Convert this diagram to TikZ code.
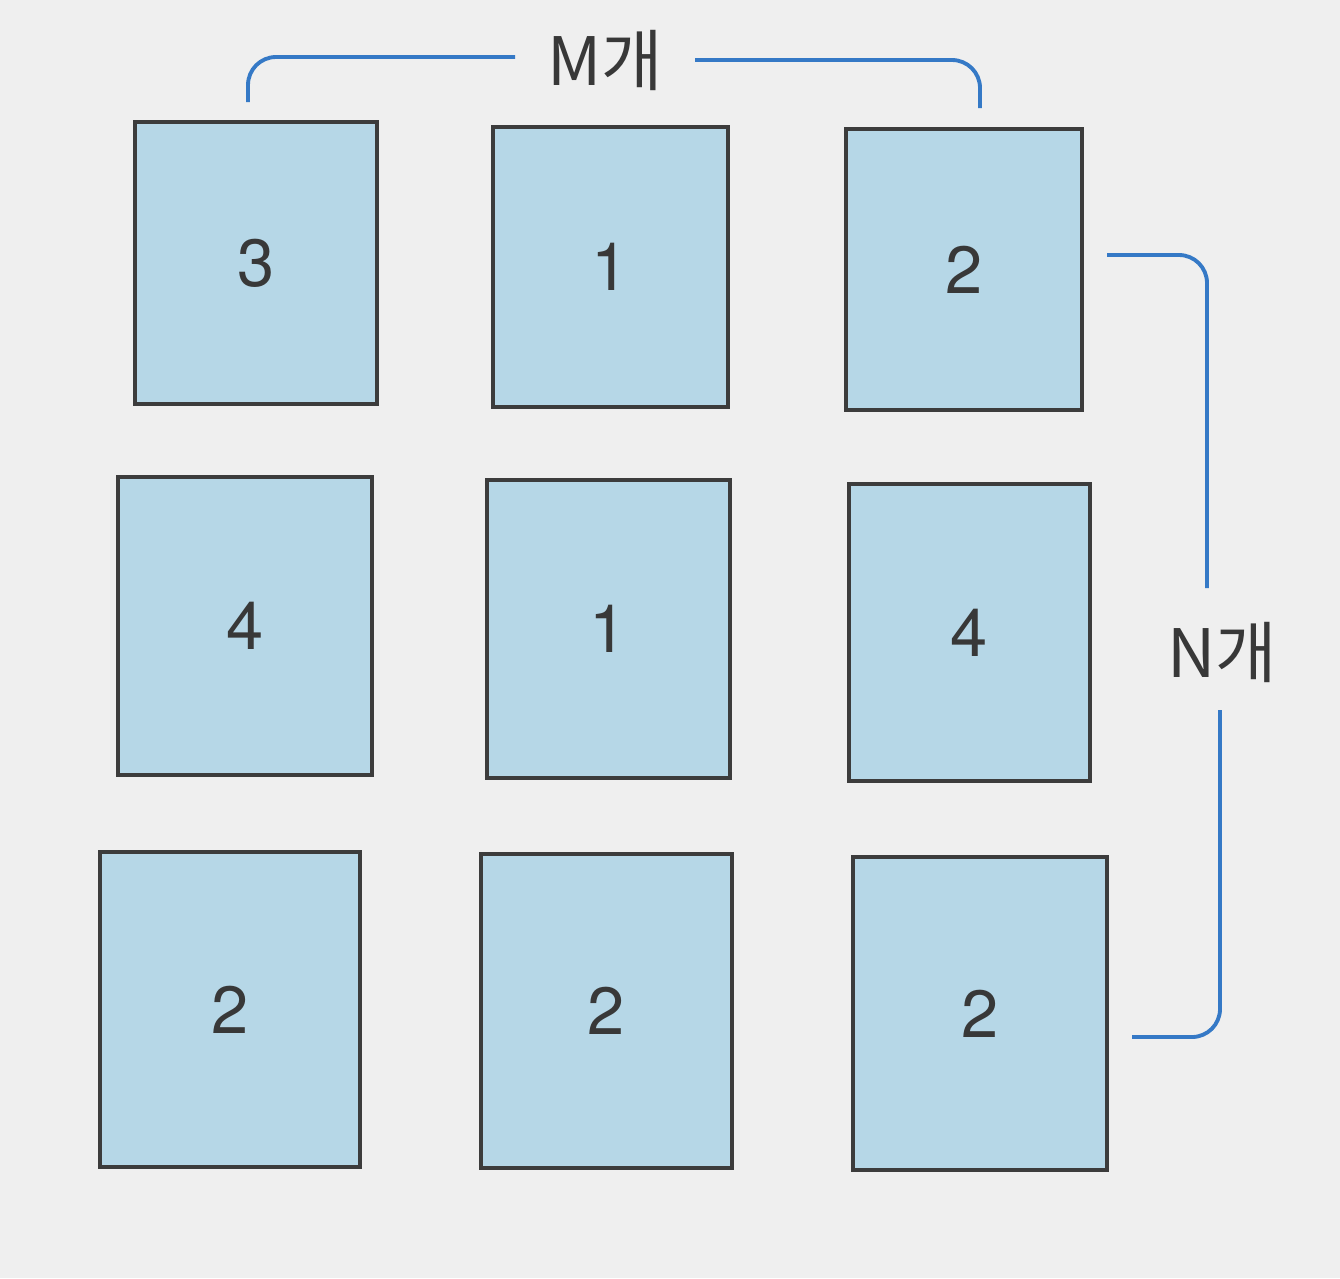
\documentclass[tikz,border=0pt]{standalone}
\usepackage{fontspec}
\setmainfont{TeX Gyre Heros}
\newfontfamily\krfont{Noto Sans CJK KR}
\definecolor{paper}{HTML}{EFEFEF}
\definecolor{cellfill}{HTML}{B6D7E7}
\definecolor{celledge}{HTML}{3C3C3C}
\definecolor{brk}{HTML}{3579C6}
\definecolor{ink}{HTML}{383838}
\tikzset{
  cell/.style={draw=celledge, fill=cellfill, line width=1.3pt, inner sep=0pt, outer sep=0pt,
    font=\fontsize{19}{19}\selectfont, text=ink},
  brack/.style={draw=brk, line width=1.1pt, rounded corners=0.28cm},
  lbl/.style={font=\krfont\fontsize{19}{19}\selectfont, text=ink, inner sep=0pt}
}
\begin{document}
\begin{tikzpicture}
\useasboundingbox (0,0) rectangle (13.40,-12.78);
\fill[paper] (0,0) rectangle (13.40,-12.78);
% row 1
\node[cell, minimum width=2.42cm, minimum height=2.82cm] (b1) at (2.56,-2.63) {3};
\node[cell, minimum width=2.35cm, minimum height=2.80cm] (b2) at (6.105,-2.67) {1};
\node[cell, minimum width=2.36cm, minimum height=2.81cm] (b3) at (9.64,-2.695) {2};
% row 2
\node[cell, minimum width=2.54cm, minimum height=2.98cm] (b4) at (2.45,-6.26) {4};
\node[cell, minimum width=2.43cm, minimum height=2.98cm] (b5) at (6.085,-6.29) {1};
\node[cell, minimum width=2.41cm, minimum height=2.97cm] (b6) at (9.695,-6.325) {4};
% row 3
\node[cell, minimum width=2.60cm, minimum height=3.15cm] (b7) at (2.30,-10.095) {2};
\node[cell, minimum width=2.51cm, minimum height=3.14cm] (b8) at (6.065,-10.11) {2};
\node[cell, minimum width=2.54cm, minimum height=3.13cm] (b9) at (9.80,-10.135) {2};
% M bracket
\node[lbl] (mlab) at (6.05,-0.60) {M개};
\coordinate (m1) at (2.48,-1.02);
\coordinate (m2) at (5.15,-0.57);
\coordinate (m3) at (6.95,-0.60);
\coordinate (m4) at (9.80,-1.08);
\draw[brack] (m1) |- (m2);
\draw[brack] (m3) -| (m4);
% N bracket
\node[lbl] (nlab) at (12.22,-6.52) {N개};
\coordinate (n1) at (11.07,-2.55);
\coordinate (n2) at (12.07,-5.88);
\coordinate (n3) at (12.20,-7.10);
\coordinate (n4) at (11.32,-10.37);
\draw[brack] (n1) -| (n2);
\draw[brack] (n3) |- (n4);
\end{tikzpicture}
\end{document}
